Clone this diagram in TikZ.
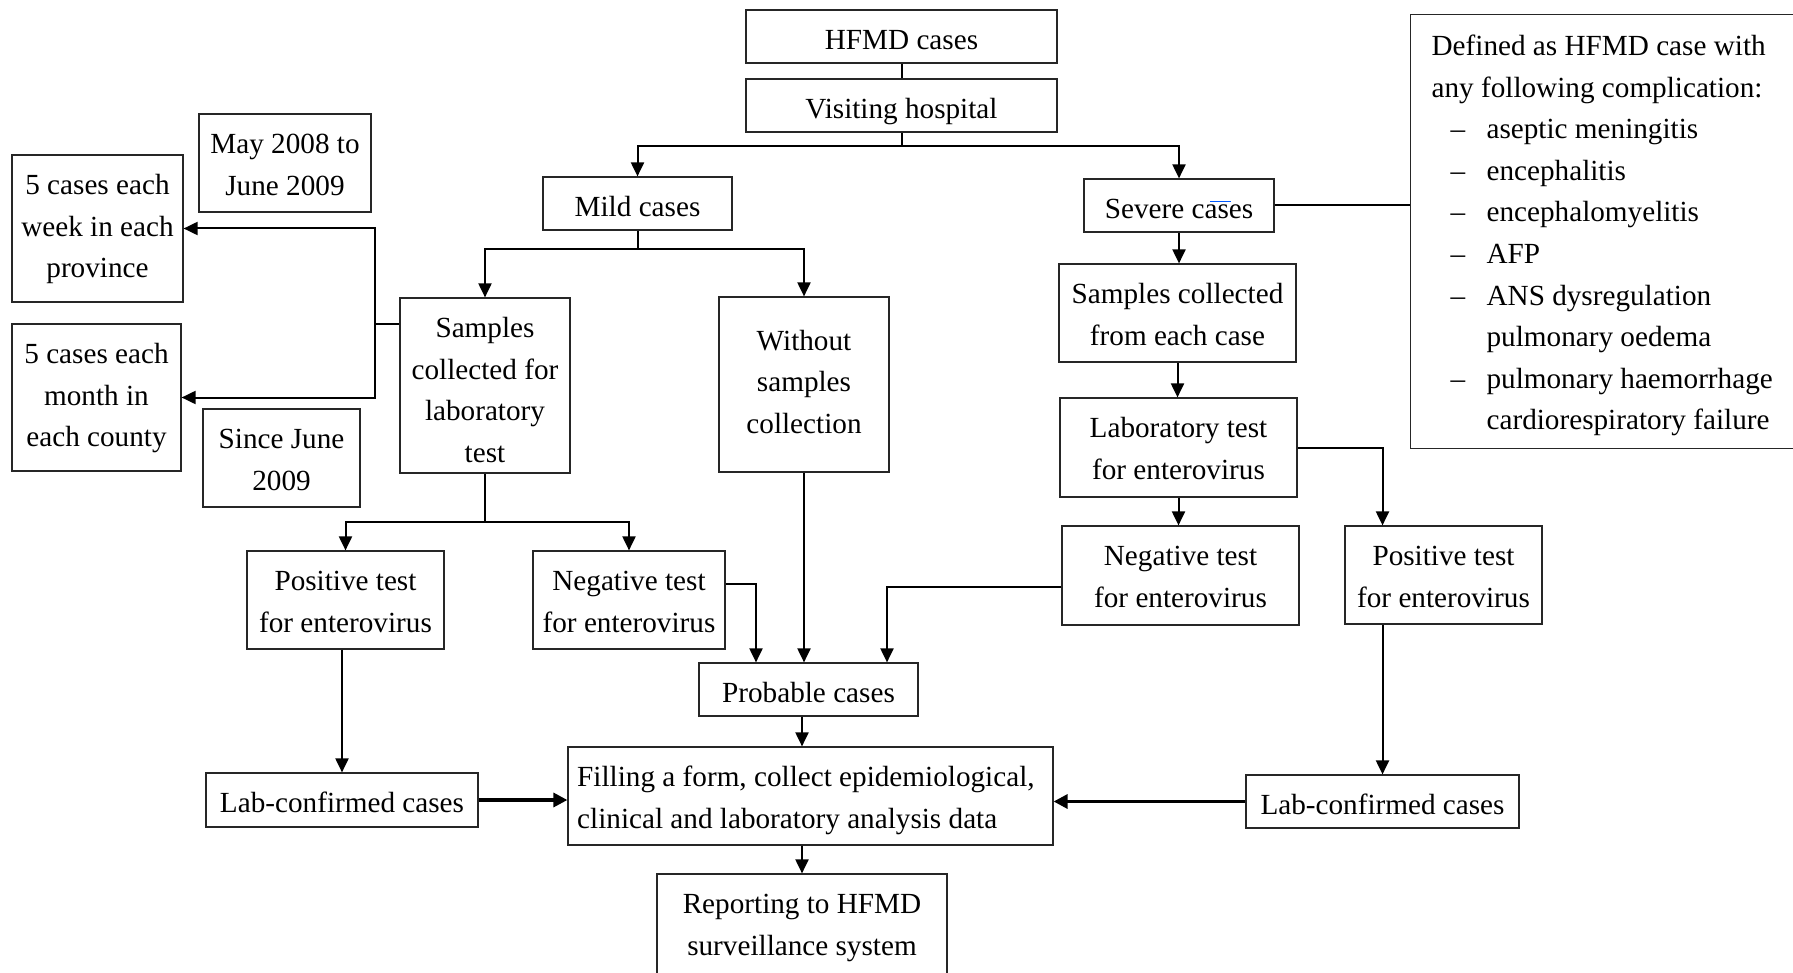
\documentclass[tikz,border=0pt]{standalone}
\usepackage{fontspec}
\setmainfont{Liberation Serif}
\usetikzlibrary{arrows.meta,calc}
\newcommand\diagfont{\fontsize{14.6}{20.8}\selectfont}
\newcommand\ditem{\hspace*{9.5pt}\makebox[18pt][l]{–}}
\newcommand\dcont{\hspace*{27.5pt}}
\begin{document}
\begin{tikzpicture}[x=0.5pt,y=-0.5pt,
  box/.style={draw=black!85, line width=0.6pt, inner sep=0pt, align=center, font=\diagfont},
  one/.style={text height=19.75pt, text depth=#1},
  two/.style={text height=40.55pt, text depth=#1},
  three/.style={text height=61.35pt, text depth=#1},
  four/.style={text height=82.15pt, text depth=#1},
  conn/.style={line width=1pt, draw=black},
  arr/.style={conn, -{Triangle[length=7pt,width=6.5pt]}},
  thickarr/.style={line width=1.6pt, draw=black, -{Triangle[length=7pt,width=7pt]}}]
\useasboundingbox (0,0) rectangle (1793,973);

% nodes
\node[box, minimum width=155.5pt, one=6.75pt] (hfmd) at (901.5,36.5) {HFMD cases};
\node[box, minimum width=155.5pt, one=6.75pt] (visit) at (901.5,105.5) {Visiting hospital};
\node[box, minimum width=94.5pt, one=6.75pt] (mild) at (637.5,203.5) {Mild cases};
\node[box, minimum width=95pt, one=6.75pt] (severe) at (1179,205.5) {Severe cases};
\node[box, minimum width=85.5pt, three=12.15pt] (week) at (97.5,228.5) {5 cases each\\week in each\\province};
\node[box, minimum width=84.5pt, three=12.15pt] (month) at (96.5,397.5) {5 cases each\\month in\\each county};
\node[box, minimum width=86pt, two=8.45pt] (may) at (285,163) {May 2008 to\\June 2009};
\node[box, minimum width=78.5pt, two=8.45pt] (since) at (281.5,458) {Since June\\2009};
\node[box, minimum width=85pt, four=5.35pt] (samp) at (485,385.5) {Samples\\collected for\\laboratory\\test};
\node[box, minimum width=85pt, text height=68.1pt, text depth=19.4pt] (without) at (804,384.5) {Without\\samples\\collection};
\node[box, minimum width=118.5pt, two=8.45pt] (each) at (1177.5,313) {Samples collected\\from each case};
\node[box, minimum width=118.5pt, two=8.95pt] (lab) at (1178.5,447.5) {Laboratory test\\for enterovirus};
\node[box, minimum width=98.5pt, two=8.45pt] (posL) at (345.5,600) {Positive test\\for enterovirus};
\node[box, minimum width=96pt, two=8.45pt] (negL) at (629,600) {Negative test\\for enterovirus};
\node[box, minimum width=118.5pt, two=8.95pt] (negR) at (1180.5,575.5) {Negative test\\for enterovirus};
\node[box, minimum width=98.5pt, two=8.45pt] (posR) at (1443.5,575) {Positive test\\for enterovirus};
\node[box, minimum width=109.5pt, one=6.75pt] (prob) at (808.5,689.5) {Probable cases};
\node[box, minimum width=136pt, one=7.25pt] (labL) at (342,800) {Lab-confirmed cases};
\node[box, minimum width=242.5pt, two=8.45pt, align=left] (fill) at (810.5,796) {Filling a form, collect epidemiological,\hspace*{4.6pt}\\clinical and laboratory analysis data};
\node[box, minimum width=136.5pt, one=6.75pt] (labR) at (1382.5,801.5) {Lab-confirmed cases};
\node[box, minimum width=145pt, two=11.45pt] (report) at (802,926) {Reporting to HFMD\\surveillance system};
\node[box, anchor=north west, minimum width=200pt, text height=20.5pt, text depth=196.5pt, text width=180pt, inner xsep=10.5pt, align=flush left] (def) at (1410,14)
 {Defined as HFMD case with\\any following complication:\\
  \ditem aseptic meningitis\\
  \ditem encephalitis\\
  \ditem encephalomyelitis\\
  \ditem AFP\\
  \ditem ANS dysregulation\\
  \dcont pulmonary oedema\\
  \ditem pulmonary haemorrhage\\
  \dcont cardiorespiratory failure};

% connectors
\draw[conn] (hfmd) -- (visit);
\coordinate (s1) at ($(visit.south)+(0,13)$);
\draw[conn] (visit.south) -- (s1);
\draw[arr] (s1) -| (mild.north);
\draw[arr] (s1) -| (severe.north);

\coordinate (s2) at ($(mild.south)+(0,18)$);
\draw[conn] (mild.south) -- (s2);
\draw[arr] (s2) -| (samp.north);
\draw[arr] (s2) -| (without.north);

\coordinate (j1) at (375,324);
\draw[conn] (j1 -| samp.west) -- (j1);
\draw[arr] (j1) |- (week.east);
\draw[arr] (j1) |- (month.east);

\coordinate (s3) at ($(samp.south)+(0,48)$);
\draw[conn] (samp.south) -- (s3);
\draw[arr] (s3) -| (posL.north);
\draw[arr] (s3) -| (negL.north);

\coordinate (n1) at (756,584);
\draw[arr] (n1 -| negL.east) -- (n1) -- (n1 |- prob.north);
\draw[arr] (without.south) -- (without.south |- prob.north);
\coordinate (n2) at (887,587);
\draw[arr] (n2 -| negR.west) -- (n2) -- (n2 |- prob.north);

\draw[arr] (report.north |- prob.south) -- (report.north |- fill.north);
\draw[arr] (report.north |- fill.south) -- (report.north);

\draw[arr] (labL.north |- posL.south) -- (labL.north);
\draw[thickarr] (labL.east) -- (labL.east -| fill.west);
\draw[thickarr] (labR.west) -- (labR.west -| fill.east);
\draw[arr] (labR.north |- posR.south) -- (labR.north);
\draw[arr] (lab.east) -| (labR.north |- posR.north);
\draw[arr] (lab.south) -- (lab.south |- negR.north);
\draw[arr] (severe.south) -- (severe.south |- each.north);
\draw[arr] (each.south) -- (each.south |- lab.north);
\draw[conn] (severe.east) -- (severe.east -| def.west);

% spell-check mark
\draw[blue!65!cyan, line width=0.7pt] ($(severe.center)+(31,-4)$) -- ++(21,0);
\end{tikzpicture}
\end{document}
